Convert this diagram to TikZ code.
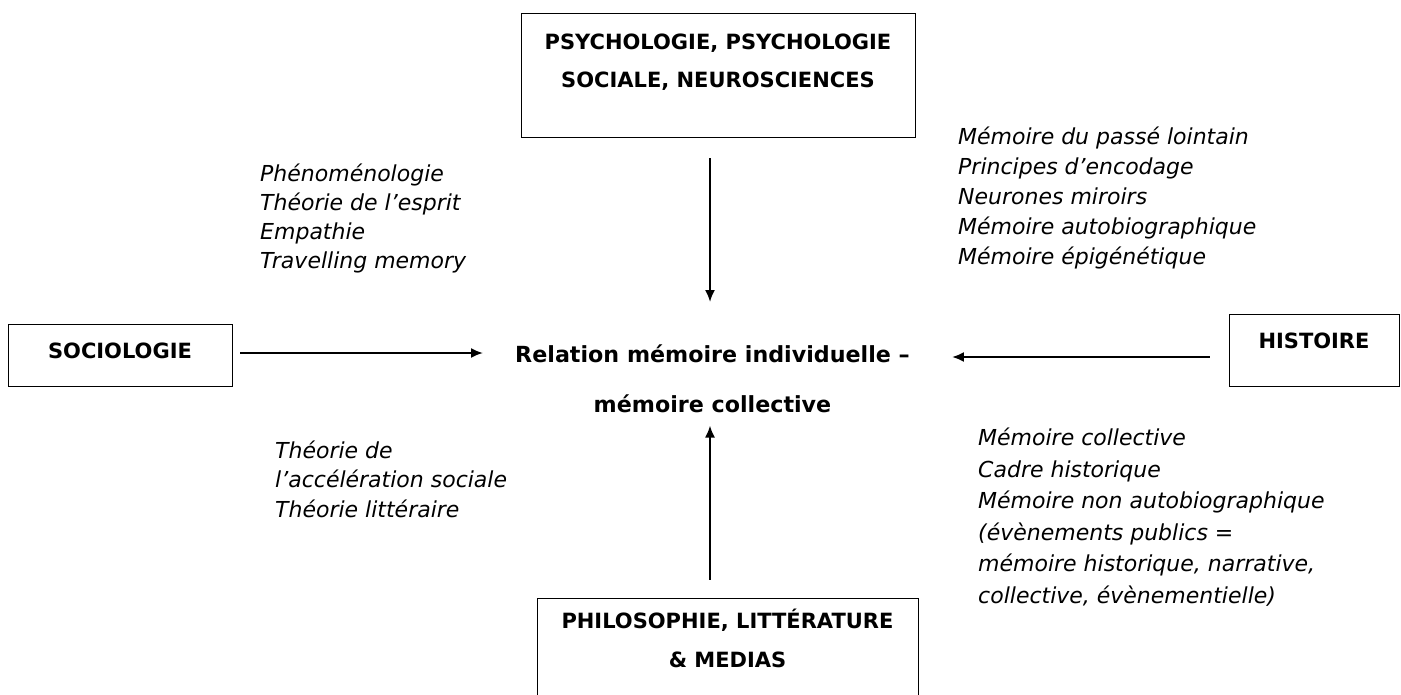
\documentclass[tikz,border=0pt]{standalone}
\usepackage{fontspec}
\setmainfont{DejaVu Sans}
\usetikzlibrary{positioning}
\usetikzlibrary{arrows.meta}
\tikzset{
    mybox/.style = {rectangle, draw=black, line width=0.9pt, inner sep=0pt},
    boxtext/.style = {align=center, inner sep=0pt, anchor=base, font=\bfseries\fontsize{21}{38.5}\selectfont},
    mytext/.style = {align=left, inner sep=0pt, anchor=base west, font=\itshape\fontsize{22}{30}\selectfont},
    reltext/.style = {align=center, inner sep=0pt, anchor=base, font=\bfseries\fontsize{22.2}{50}\selectfont},
    edgen/.style = {-{Latex[length=12pt,width=10pt]}, line width=2pt}
}
\begin{document}
\begin{tikzpicture}[x=1pt,y=-1pt]
\useasboundingbox (0,0) rectangle (1401,695);
\clip (0,0) rectangle (1401,695);
%
\node[mybox, minimum width=394pt, minimum height=124pt] at (718,75) (psybox) {};
\node[mybox, minimum width=224pt, minimum height=62pt] at (120,355) (sociobox) {};
\node[mybox, minimum width=170pt, minimum height=72pt] at (1314,350) (histbox) {};
\node[mybox, minimum width=381pt, minimum height=110pt] at (727.5,653) (philobox) {};
%
% multi-line nodes: base = last line
\node[boxtext] at (718,88) (psy) {PSYCHOLOGIE, PSYCHOLOGIE\\SOCIALE, NEUROSCIENCES};
\node[boxtext] at (120,358) (socio) {SOCIOLOGIE};
\node[boxtext] at (1314,348) (hist) {HISTOIRE};
\node[boxtext] at (727.5,667) (philo) {PHILOSOPHIE, LITTÉRATURE\\\& MEDIAS};
\node[reltext] at (712.5,412) (rel) {Relation mémoire individuelle –\\mémoire collective};
%
\node[mytext, font=\itshape\fontsize{22}{29}\selectfont] at (260,269) (lefttop) {Phénoménologie\\Théorie de l’esprit\\Empathie\\Travelling memory};
\node[mytext] at (958,265) (righttop) {Mémoire du passé lointain\\Principes d’encodage\\Neurones miroirs\\Mémoire autobiographique\\Mémoire épigénétique};
\node[mytext, font=\itshape\fontsize{22}{29.5}\selectfont] at (275,517) (leftbot) {Théorie de\\l’accélération sociale\\Théorie littéraire};
\node[mytext, font=\itshape\fontsize{22}{31.5}\selectfont] at (978,603) (rightbot) {Mémoire collective\\Cadre historique\\Mémoire non autobiographique\\(évènements publics =\\mémoire historique, narrative,\\collective, évènementielle)};
%
\draw[edgen, shorten <=21pt, shorten >=42pt] ([xshift=-8pt]psybox.south) -- ([xshift=-8pt]psybox.south |- rel.north);
\draw[edgen, shorten <=8pt, shorten >=32pt] ([yshift=2pt]sociobox.east) -- ([yshift=2pt]sociobox.east -| rel.west);
\draw[edgen, shorten <=19pt, shorten >=42pt] ([yshift=-7pt]histbox.west) -- ([yshift=-7pt]histbox.west -| rel.east);
\draw[edgen, shorten <=18pt, shorten >=13pt] ([xshift=-17.5pt]philobox.north) -- ([xshift=-17.5pt]philobox.north |- rel.south);
\end{tikzpicture}
\end{document}
